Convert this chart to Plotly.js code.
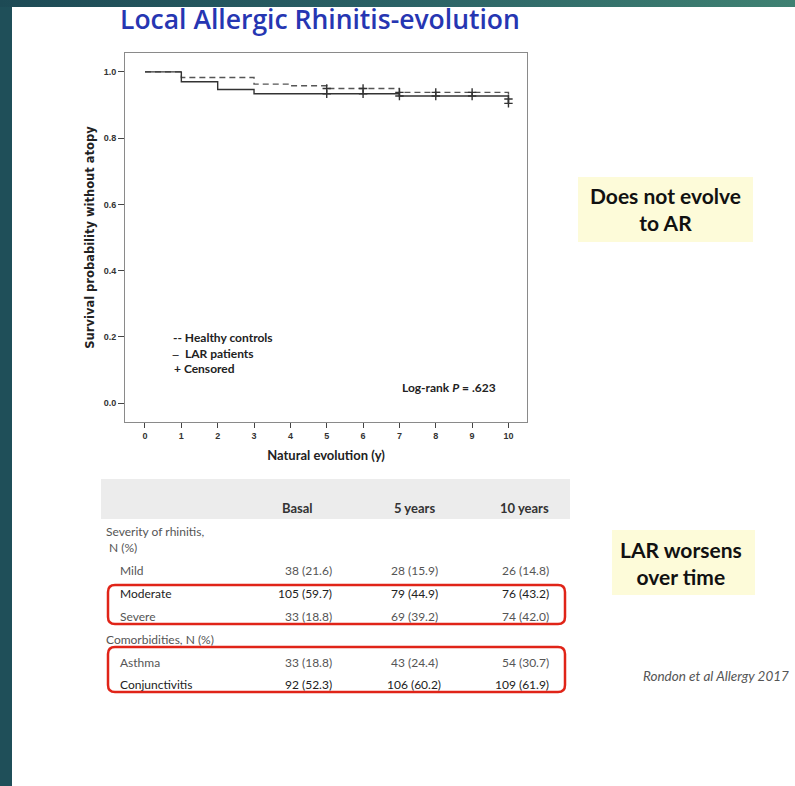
<!DOCTYPE html>
<html>
<head>
<meta charset="utf-8">
<script src="https://cdn.plot.ly/plotly-3.0.1.min.js"></script>
<style>
html,body{margin:0;padding:0;background:#fff;}
#wrap{position:relative;width:795px;height:786px;overflow:hidden;}
#chart{width:795px;height:786px;}
#topbar{position:absolute;left:0;top:0;width:795px;height:7px;background:linear-gradient(to right,#1d4a55 0%,#2b6266 50%,#3f8172 100%);z-index:10;}
</style>
</head>
<body>
<div id="wrap"><div id="chart"></div><div id="topbar"></div></div>
<script>
// ---- Kaplan-Meier data ----
const larTimes = [0, 1, 2, 3, 7, 10];
const larSurv = [1.0, 0.970, 0.947, 0.934, 0.927, 0.905];
const hcTimes = [0, 1, 3, 4, 5, 7, 10];
const hcSurv = [1.0, 0.983, 0.963, 0.958, 0.950, 0.938, 0.918];
const larCensT = [5, 6, 7, 8, 9, 10];
const larCensS = [0.934, 0.934, 0.927, 0.927, 0.927, 0.905];
const hcCensT = [5, 6, 7, 8, 9, 10];
const hcCensS = [0.950, 0.950, 0.938, 0.938, 0.938, 0.918];
const xTicks = [0, 1, 2, 3, 4, 5, 6, 7, 8, 9, 10];
const yTicks = [0.0, 0.2, 0.4, 0.6, 0.8, 1.0];

// ---- Table data ----
const tableHeaders = ["Basal", "5 years", "10 years"];
const rowLabels = ["Mild", "Moderate", "Severe", "Asthma", "Conjunctivitis"];
const basalVals = ["38 (21.6)", "105 (59.7)", "33 (18.8)", "33 (18.8)", "92 (52.3)"];
const year5Vals = ["28 (15.9)", "79 (44.9)", "69 (39.2)", "43 (24.4)", "106 (60.2)"];
const year10Vals = ["26 (14.8)", "76 (43.2)", "74 (42.0)", "54 (30.7)", "109 (61.9)"];

const W = 795, H = 786;
const px = x => x / W;
const py = y => 1 - y / H;

const traces = [
  {x: hcTimes, y: hcSurv, mode: 'lines', line: {shape: 'hv', color: '#555', width: 1.4, dash: '6px,4px'}, showlegend: false, hoverinfo: 'skip'},
  {x: larTimes, y: larSurv, mode: 'lines', line: {shape: 'hv', color: '#333', width: 1.4}, showlegend: false, hoverinfo: 'skip'},
  {x: hcCensT, y: hcCensS, mode: 'markers', marker: {symbol: 'cross-thin', size: 6, line: {color: '#333', width: 1.4}}, showlegend: false, hoverinfo: 'skip'},
  {x: larCensT, y: larCensS, mode: 'markers', marker: {symbol: 'cross-thin', size: 6, line: {color: '#333', width: 1.4}}, showlegend: false, hoverinfo: 'skip'}
];

const shapes = [];
const annotations = [];

// slide decoration: left bar
shapes.push({type: 'rect', xref: 'paper', yref: 'paper', x0: 0, x1: px(12), y0: 0, y1: 1, fillcolor: '#1f4f59', line: {width: 0}, layer: 'above'});

// title
annotations.push({xref: 'paper', yref: 'paper', x: px(118), y: py(19), xanchor: 'left', yanchor: 'middle', showarrow: false,
  text: 'Local Allergic Rhinitis-evolution', font: {family: 'Open Sans', size: 26.5, color: '#2636b2', weight: 600}});

// legend (text)
const legFont = {family: 'Lato', size: 12, color: '#222', weight: 'bold'};
annotations.push({xref: 'paper', yref: 'paper', x: px(171), y: py(337), xanchor: 'left', yanchor: 'middle', showarrow: false, text: '-- Healthy controls', font: legFont});
annotations.push({xref: 'paper', yref: 'paper', x: px(170), y: py(353), xanchor: 'left', yanchor: 'middle', showarrow: false, text: '<span style="font-size:9px">—</span>  LAR patients', font: legFont});
annotations.push({xref: 'paper', yref: 'paper', x: px(172), y: py(369), xanchor: 'left', yanchor: 'middle', showarrow: false, text: '+ Censored', font: legFont});
annotations.push({xref: 'paper', yref: 'paper', x: px(400), y: py(387), xanchor: 'left', yanchor: 'middle', showarrow: false, text: 'Log-rank <i>P</i> = .623', font: legFont});

// yellow note boxes
shapes.push({type: 'rect', xref: 'paper', yref: 'paper', x0: px(578), x1: px(753), y0: py(242), y1: py(177), fillcolor: '#fdfbd9', line: {width: 0}, layer: 'below'});
shapes.push({type: 'rect', xref: 'paper', yref: 'paper', x0: px(612), x1: px(755), y0: py(595), y1: py(530), fillcolor: '#fdfbd9', line: {width: 0}, layer: 'below'});
const noteFont = {family: 'Lato', size: 21, color: '#111', weight: 'bold'};
annotations.push({xref: 'paper', yref: 'paper', x: px(665), y: py(209), xanchor: 'center', yanchor: 'middle', showarrow: false, text: 'Does not evolve<br>to AR', font: noteFont, align: 'center'});
annotations.push({xref: 'paper', yref: 'paper', x: px(681), y: py(563), xanchor: 'center', yanchor: 'middle', showarrow: false, text: 'LAR worsens<br>over time', font: noteFont, align: 'center'});
annotations.push({xref: 'paper', yref: 'paper', x: px(641), y: py(676), xanchor: 'left', yanchor: 'middle', showarrow: false, text: '<i>Rondon et al Allergy 2017</i>', font: {family: 'Lato', size: 13.5, color: '#555'}});

// table
shapes.push({type: 'rect', xref: 'paper', yref: 'paper', x0: px(101), x1: px(570), y0: py(519), y1: py(479), fillcolor: '#ececec', line: {width: 0}, layer: 'below'});
const thFont = {family: 'Lato', size: 13, color: '#333', weight: 'bold'};
const hdrX = [297, 414, 524];
tableHeaders.forEach((h, i) => annotations.push({xref: 'paper', yref: 'paper', x: px(hdrX[i]), y: py(508), xanchor: 'center', yanchor: 'middle', showarrow: false, text: h, font: thFont}));
const tdFont = {family: 'Lato', size: 12, color: '#555'};
const tdDark = {family: 'Lato', size: 12, color: '#222'};
annotations.push({xref: 'paper', yref: 'paper', x: px(104), y: py(531), xanchor: 'left', yanchor: 'middle', showarrow: false, text: 'Severity of rhinitis,', font: tdFont});
annotations.push({xref: 'paper', yref: 'paper', x: px(107), y: py(547), xanchor: 'left', yanchor: 'middle', showarrow: false, text: 'N (%)', font: tdFont});
annotations.push({xref: 'paper', yref: 'paper', x: px(104), y: py(639), xanchor: 'left', yanchor: 'middle', showarrow: false, text: 'Comorbidities, N (%)', font: tdFont});
const rowY = [570, 593, 616, 662, 684];
const darkRow = [false, true, false, false, true];
rowLabels.forEach((lab, i) => {
  const f = darkRow[i] ? tdDark : tdFont;
  annotations.push({xref: 'paper', yref: 'paper', x: px(118), y: py(rowY[i]), xanchor: 'left', yanchor: 'middle', showarrow: false, text: lab, font: f});
  annotations.push({xref: 'paper', yref: 'paper', x: px(334), y: py(rowY[i]), xanchor: 'right', yanchor: 'middle', showarrow: false, text: basalVals[i], font: f});
  annotations.push({xref: 'paper', yref: 'paper', x: px(414), y: py(rowY[i]), xanchor: 'center', yanchor: 'middle', showarrow: false, text: year5Vals[i], font: f});
  annotations.push({xref: 'paper', yref: 'paper', x: px(551), y: py(rowY[i]), xanchor: 'right', yanchor: 'middle', showarrow: false, text: year10Vals[i], font: f});
});

// red highlight boxes (rounded)
function paperPath(x0, y0, x1, y1, r) {
  const rx = r / W, ry = r / H;
  const a = px(x0), b = px(x1), top = py(y0), bot = py(y1);
  return `M${a + rx},${top} L${b - rx},${top} Q${b},${top} ${b},${top - ry} L${b},${bot + ry} Q${b},${bot} ${b - rx},${bot} L${a + rx},${bot} Q${a},${bot} ${a},${bot + ry} L${a},${top - ry} Q${a},${top} ${a + rx},${top} Z`;
}
shapes.push({type: 'path', xref: 'paper', yref: 'paper', path: paperPath(108, 585, 565, 624, 7), line: {color: '#e02418', width: 2.5}, fillcolor: 'rgba(0,0,0,0)', layer: 'above'});
shapes.push({type: 'path', xref: 'paper', yref: 'paper', path: paperPath(108, 647, 565, 692, 7), line: {color: '#e02418', width: 2.5}, fillcolor: 'rgba(0,0,0,0)', layer: 'above'});

const tickFont = {family: 'Liberation Sans', size: 9, color: '#333', weight: 'bold'};
const layout = {
  width: W, height: H,
  margin: {l: 0, r: 0, t: 0, b: 0},
  paper_bgcolor: '#ffffff', plot_bgcolor: '#ffffff',
  showlegend: false,
  xaxis: {
    domain: [px(125), px(527)], range: [-0.55, 10.51],
    tickvals: xTicks, ticktext: xTicks.map(String),
    showgrid: false, zeroline: false, showline: true, mirror: true, linecolor: '#8a8a8a', linewidth: 1,
    ticks: 'outside', ticklen: 5, tickcolor: '#444', tickwidth: 1, tickfont: tickFont,
    title: {text: 'Natural evolution (y)', font: {family: 'Lato', size: 13, color: '#222', weight: 'bold'}, standoff: 11},
    anchor: 'y'
  },
  yaxis: {
    domain: [py(422), py(53)], range: [-0.057, 1.057],
    tickvals: yTicks, ticktext: yTicks.map(v => v.toFixed(1)),
    showgrid: false, zeroline: false, showline: true, mirror: true, linecolor: '#8a8a8a', linewidth: 1,
    ticks: 'outside', ticklen: 6, tickcolor: '#444', tickwidth: 1, tickfont: tickFont,
    title: {text: 'Survival probability without atopy', font: {family: 'DejaVu Sans', size: 11.5, color: '#222', weight: 'bold'}, standoff: 6},
    anchor: 'x'
  },
  shapes: shapes,
  annotations: annotations
};

Plotly.newPlot('chart', traces, layout, {displayModeBar: false, staticPlot: true});
</script>
</body>
</html>
